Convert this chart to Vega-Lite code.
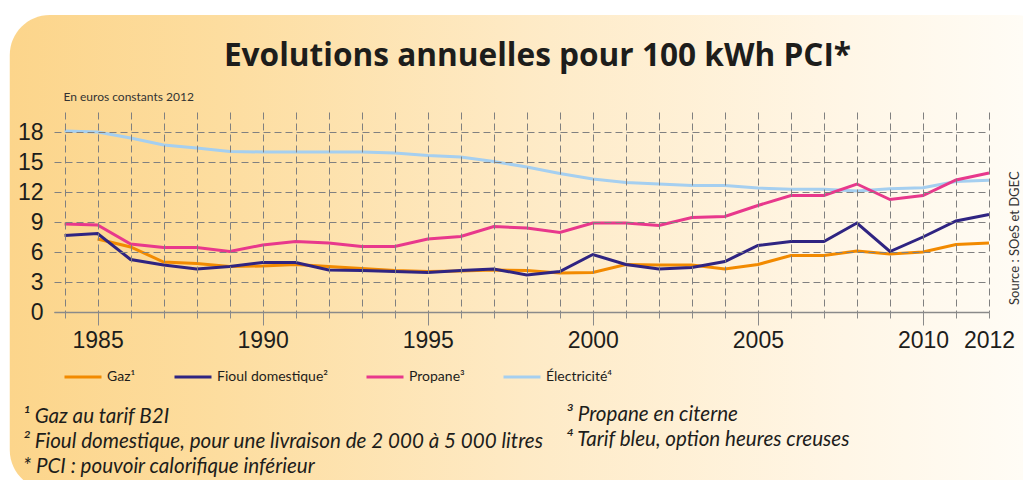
{
  "$schema": "https://vega.github.io/schema/vega-lite/v6.json",
  "autosize": "none",
  "width": 935,
  "height": 200,
  "padding": {"left": 54, "top": 112, "right": 34, "bottom": 168},
  "background": "#ffffff",
  "config": {"view": {"stroke": null}, "font": "Liberation Sans"},
  "title": {
    "text": "Evolutions annuelles pour 100 kWh PCI*",
    "font": "Open Sans",
    "fontSize": 31.6,
    "fontWeight": "bold",
    "color": "#1d1d1b",
    "anchor": "middle",
    "frame": "group",
    "baseline": "alphabetic",
    "offset": -83,
    "dx": 16
  },
  "resolve": {"axis": {"x": "independent", "y": "independent"}},
  "datasets": {
    "prix": [
      {"year": 1984, "series": "Électricité⁴", "value": 18.1},
      {"year": 1985, "series": "Électricité⁴", "value": 18.0},
      {"year": 1986, "series": "Électricité⁴", "value": 17.4},
      {"year": 1987, "series": "Électricité⁴", "value": 16.7},
      {"year": 1988, "series": "Électricité⁴", "value": 16.4},
      {"year": 1989, "series": "Électricité⁴", "value": 16.05},
      {"year": 1990, "series": "Électricité⁴", "value": 16.0},
      {"year": 1991, "series": "Électricité⁴", "value": 16.0},
      {"year": 1992, "series": "Électricité⁴", "value": 16.0},
      {"year": 1993, "series": "Électricité⁴", "value": 16.0},
      {"year": 1994, "series": "Électricité⁴", "value": 15.9},
      {"year": 1995, "series": "Électricité⁴", "value": 15.65},
      {"year": 1996, "series": "Électricité⁴", "value": 15.5},
      {"year": 1997, "series": "Électricité⁴", "value": 15.05},
      {"year": 1998, "series": "Électricité⁴", "value": 14.5},
      {"year": 1999, "series": "Électricité⁴", "value": 13.85},
      {"year": 2000, "series": "Électricité⁴", "value": 13.3},
      {"year": 2001, "series": "Électricité⁴", "value": 12.95},
      {"year": 2002, "series": "Électricité⁴", "value": 12.8},
      {"year": 2003, "series": "Électricité⁴", "value": 12.65},
      {"year": 2004, "series": "Électricité⁴", "value": 12.65},
      {"year": 2005, "series": "Électricité⁴", "value": 12.4},
      {"year": 2006, "series": "Électricité⁴", "value": 12.27},
      {"year": 2007, "series": "Électricité⁴", "value": 12.27},
      {"year": 2008, "series": "Électricité⁴", "value": 12.1},
      {"year": 2009, "series": "Électricité⁴", "value": 12.33},
      {"year": 2010, "series": "Électricité⁴", "value": 12.43},
      {"year": 2011, "series": "Électricité⁴", "value": 13.05},
      {"year": 2012, "series": "Électricité⁴", "value": 13.17},
      {"year": 1984, "series": "Propane³", "value": 8.8},
      {"year": 1985, "series": "Propane³", "value": 8.7},
      {"year": 1986, "series": "Propane³", "value": 6.8},
      {"year": 1987, "series": "Propane³", "value": 6.45},
      {"year": 1988, "series": "Propane³", "value": 6.45},
      {"year": 1989, "series": "Propane³", "value": 6.05},
      {"year": 1990, "series": "Propane³", "value": 6.7},
      {"year": 1991, "series": "Propane³", "value": 7.05},
      {"year": 1992, "series": "Propane³", "value": 6.9},
      {"year": 1993, "series": "Propane³", "value": 6.55},
      {"year": 1994, "series": "Propane³", "value": 6.55},
      {"year": 1995, "series": "Propane³", "value": 7.3},
      {"year": 1996, "series": "Propane³", "value": 7.55},
      {"year": 1997, "series": "Propane³", "value": 8.55},
      {"year": 1998, "series": "Propane³", "value": 8.4},
      {"year": 1999, "series": "Propane³", "value": 7.95},
      {"year": 2000, "series": "Propane³", "value": 8.9},
      {"year": 2001, "series": "Propane³", "value": 8.9},
      {"year": 2002, "series": "Propane³", "value": 8.65},
      {"year": 2003, "series": "Propane³", "value": 9.45},
      {"year": 2004, "series": "Propane³", "value": 9.55},
      {"year": 2005, "series": "Propane³", "value": 10.65},
      {"year": 2006, "series": "Propane³", "value": 11.65},
      {"year": 2007, "series": "Propane³", "value": 11.65},
      {"year": 2008, "series": "Propane³", "value": 12.8},
      {"year": 2009, "series": "Propane³", "value": 11.25},
      {"year": 2010, "series": "Propane³", "value": 11.65},
      {"year": 2011, "series": "Propane³", "value": 13.2},
      {"year": 2012, "series": "Propane³", "value": 13.9},
      {"year": 1985, "series": "Gaz¹", "value": 7.3},
      {"year": 1986, "series": "Gaz¹", "value": 6.5},
      {"year": 1987, "series": "Gaz¹", "value": 5.0},
      {"year": 1988, "series": "Gaz¹", "value": 4.85},
      {"year": 1989, "series": "Gaz¹", "value": 4.55},
      {"year": 1990, "series": "Gaz¹", "value": 4.6},
      {"year": 1991, "series": "Gaz¹", "value": 4.75},
      {"year": 1992, "series": "Gaz¹", "value": 4.55},
      {"year": 1993, "series": "Gaz¹", "value": 4.35},
      {"year": 1994, "series": "Gaz¹", "value": 4.15},
      {"year": 1995, "series": "Gaz¹", "value": 4.05},
      {"year": 1996, "series": "Gaz¹", "value": 4.1},
      {"year": 1997, "series": "Gaz¹", "value": 4.2},
      {"year": 1998, "series": "Gaz¹", "value": 4.15},
      {"year": 1999, "series": "Gaz¹", "value": 3.9},
      {"year": 2000, "series": "Gaz¹", "value": 3.95},
      {"year": 2001, "series": "Gaz¹", "value": 4.75},
      {"year": 2002, "series": "Gaz¹", "value": 4.7},
      {"year": 2003, "series": "Gaz¹", "value": 4.7},
      {"year": 2004, "series": "Gaz¹", "value": 4.3},
      {"year": 2005, "series": "Gaz¹", "value": 4.75},
      {"year": 2006, "series": "Gaz¹", "value": 5.65},
      {"year": 2007, "series": "Gaz¹", "value": 5.65},
      {"year": 2008, "series": "Gaz¹", "value": 6.1},
      {"year": 2009, "series": "Gaz¹", "value": 5.8},
      {"year": 2010, "series": "Gaz¹", "value": 6.0},
      {"year": 2011, "series": "Gaz¹", "value": 6.75},
      {"year": 2012, "series": "Gaz¹", "value": 6.9},
      {"year": 1984, "series": "Fioul domestique²", "value": 7.65},
      {"year": 1985, "series": "Fioul domestique²", "value": 7.85},
      {"year": 1986, "series": "Fioul domestique²", "value": 5.25},
      {"year": 1987, "series": "Fioul domestique²", "value": 4.7},
      {"year": 1988, "series": "Fioul domestique²", "value": 4.3},
      {"year": 1989, "series": "Fioul domestique²", "value": 4.55},
      {"year": 1990, "series": "Fioul domestique²", "value": 4.95},
      {"year": 1991, "series": "Fioul domestique²", "value": 4.95},
      {"year": 1992, "series": "Fioul domestique²", "value": 4.2},
      {"year": 1993, "series": "Fioul domestique²", "value": 4.15},
      {"year": 1994, "series": "Fioul domestique²", "value": 4.05},
      {"year": 1995, "series": "Fioul domestique²", "value": 3.95},
      {"year": 1996, "series": "Fioul domestique²", "value": 4.15},
      {"year": 1997, "series": "Fioul domestique²", "value": 4.3},
      {"year": 1998, "series": "Fioul domestique²", "value": 3.7},
      {"year": 1999, "series": "Fioul domestique²", "value": 4.05},
      {"year": 2000, "series": "Fioul domestique²", "value": 5.75},
      {"year": 2001, "series": "Fioul domestique²", "value": 4.75},
      {"year": 2002, "series": "Fioul domestique²", "value": 4.3},
      {"year": 2003, "series": "Fioul domestique²", "value": 4.45},
      {"year": 2004, "series": "Fioul domestique²", "value": 5.05},
      {"year": 2005, "series": "Fioul domestique²", "value": 6.65},
      {"year": 2006, "series": "Fioul domestique²", "value": 7.05},
      {"year": 2007, "series": "Fioul domestique²", "value": 7.05},
      {"year": 2008, "series": "Fioul domestique²", "value": 8.9},
      {"year": 2009, "series": "Fioul domestique²", "value": 6.05},
      {"year": 2010, "series": "Fioul domestique²", "value": 7.5},
      {"year": 2011, "series": "Fioul domestique²", "value": 9.1},
      {"year": 2012, "series": "Fioul domestique²", "value": 9.75}
    ]
  },
  "layer": [
    {
      "data": {"values": [{}]},
      "mark": {
        "type": "rect",
        "cornerRadius": 40,
        "fill": {
          "gradient": "linear",
          "x1": 0, "y1": 0, "x2": 1, "y2": 0,
          "stops": [
            {"offset": 0, "color": "#fcd58b"},
            {"offset": 0.2, "color": "#fddd9f"},
            {"offset": 0.49, "color": "#feeac5"},
            {"offset": 0.8, "color": "#fff6e6"},
            {"offset": 1, "color": "#fffdf8"}
          ]
        }
      },
      "encoding": {
        "x": {"datum": 1982.34, "type": "quantitative", "scale": {"domain": [1983.68, 2012], "nice": false, "zero": false}, "axis": null},
        "x2": {"datum": 2014},
        "y": {"datum": 29.7, "type": "quantitative", "scale": {"domain": [0, 20], "nice": false}, "axis": null},
        "y2": {"datum": -17.8}
      }
    },
    {
      "data": {"name": "prix"},
      "mark": {"type": "line", "strokeWidth": 3},
      "encoding": {
        "x": {
          "field": "year",
          "type": "quantitative",
          "scale": {"domain": [1983.68, 2012], "nice": false, "zero": false},
          "axis": {
            "orient": "bottom",
            "values": [1984, 1985, 1986, 1987, 1988, 1989, 1990, 1991, 1992, 1993, 1994, 1995, 1996, 1997, 1998, 1999, 2000, 2001, 2002, 2003, 2004, 2005, 2006, 2007, 2008, 2009, 2010, 2011, 2012],
            "format": "d",
            "labelExpr": "datum.value % 5 === 0 || datum.value === 2012 ? datum.label : ''",
            "title": null,
            "grid": true,
            "gridColor": "#808080",
            "gridDash": [7, 4],
            "gridWidth": 1,
            "domain": true,
            "domainColor": "#8a8a8a",
            "domainWidth": 1.5,
            "ticks": true,
            "tickColor": "#8a8a8a",
            "tickWidth": 1,
            "tickSize": {"condition": {"test": "datum.value % 5 === 0", "value": 13}, "value": 6},
            "labelFont": "Liberation Sans",
            "labelFontSize": 23,
            "labelColor": "#1d1d1b",
            "labelPadding": {"condition": {"test": "datum.value % 5 === 0", "value": 4}, "value": 11},
            "labelFlush": false,
            "labelOverlap": false,
            "zindex": 1
          }
        },
        "y": {
          "field": "value",
          "type": "quantitative",
          "scale": {"domain": [0, 20], "nice": false},
          "axis": {
            "orient": "left",
            "values": [0, 3, 6, 9, 12, 15, 18],
            "title": "En euros constants 2012",
            "titleAngle": 0,
            "titleAlign": "left",
            "titleBaseline": "alphabetic",
            "titleX": 9,
            "titleY": -12,
            "titleFont": "Lato",
            "titleFontSize": 12,
            "titleFontWeight": "normal",
            "titleColor": "#333333",
            "labelFont": "Liberation Sans",
            "labelFontSize": 23,
            "labelColor": "#1d1d1b",
            "labelPadding": 11,
            "labelBaseline": "middle",
            "labelOverlap": false,
            "ticks": false,
            "domain": false,
            "grid": true,
            "gridColor": "#808080",
            "gridDash": [7, 4],
            "gridWidth": 1,
            "zindex": 1
          }
        },
        "color": {
          "field": "series",
          "type": "nominal",
          "scale": {
            "domain": ["Gaz¹", "Fioul domestique²", "Propane³", "Électricité⁴"],
            "range": ["#f28a00", "#2f2482", "#e8388c", "#a5cff0"]
          },
          "legend": {
            "orient": "none",
            "legendX": 9,
            "legendY": 245,
            "direction": "horizontal",
            "columns": 4,
            "title": null,
            "symbolType": "stroke",
            "symbolSize": 1369,
            "symbolStrokeWidth": 3,
            "labelFont": "Lato",
            "labelFontSize": 14,
            "labelColor": "#1d1d1b",
            "labelOffset": 4,
            "columnPadding": 32
          }
        }
      }
    },
    {
      "data": {"values": [{}]},
      "mark": {"type": "text", "align": "left", "baseline": "alphabetic", "font": "Lato", "fontStyle": "italic", "fontSize": 20.6, "lineHeight": 25, "color": "#1d1d1b"},
      "encoding": {
        "x": {"datum": 1982.74, "type": "quantitative", "axis": null},
        "y": {"datum": -11.1, "type": "quantitative", "axis": null},
        "text": {"value": ["¹ Gaz au tarif B2I", "² Fioul domestique, pour une livraison de 2 000 à 5 000 litres", "* PCI : pouvoir calorifique inférieur"]}
      }
    },
    {
      "data": {"values": [{}]},
      "mark": {"type": "text", "align": "left", "baseline": "alphabetic", "font": "Lato", "fontStyle": "italic", "fontSize": 20.6, "lineHeight": 25, "color": "#1d1d1b"},
      "encoding": {
        "x": {"datum": 1999.19, "type": "quantitative", "axis": null},
        "y": {"datum": -10.9, "type": "quantitative", "axis": null},
        "text": {"value": ["³ Propane en citerne", "⁴ Tarif bleu, option heures creuses"]}
      }
    },
    {
      "data": {"values": [{}]},
      "mark": {"type": "text", "align": "center", "baseline": "middle", "angle": 270, "font": "Lato", "fontSize": 13, "color": "#333333"},
      "encoding": {
        "x": {"datum": 2012.79, "type": "quantitative", "axis": null},
        "y": {"datum": 7.38, "type": "quantitative", "axis": null},
        "text": {"value": "Source : SOeS et DGEC"}
      }
    }
  ]
}
